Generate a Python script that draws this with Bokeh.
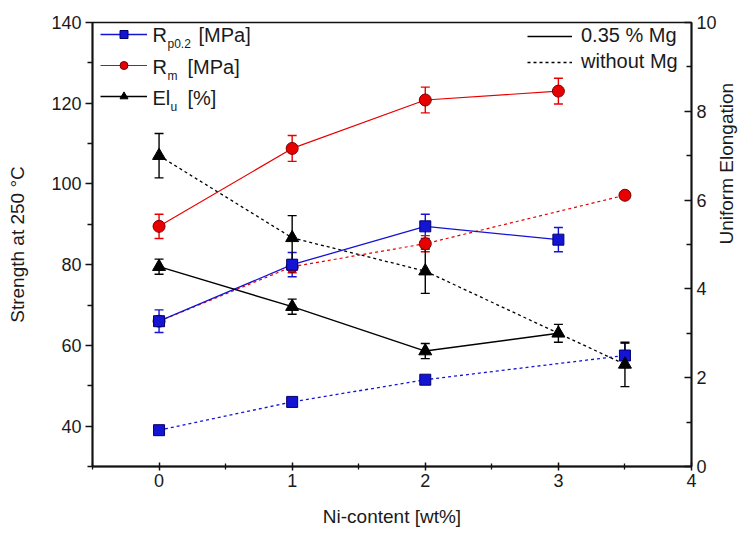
import math
from bokeh.plotting import figure
from bokeh.models import (Range1d, LinearAxis, Whisker, ColumnDataSource, Legend,
                          LegendItem, Label, FixedTicker, TeeHead)
from bokeh.embed import file_html
from bokeh.resources import INLINE

# ---------------- data ----------------
ni_mg = [0, 1, 2, 3]            # 0.35 % Mg
ni_wo = [0, 1, 2, 3.5]          # without Mg

rp_mg = [66.0, 80.0, 89.5, 86.2]
rp_mg_err = [2.8, 3.0, 3.0, 3.0]
rm_mg = [89.5, 108.8, 120.8, 123.0]
rm_mg_err = [3.0, 3.2, 3.2, 3.2]
el_mg = [4.5, 3.6, 2.6, 3.0]
el_mg_err = [0.17, 0.17, 0.17, 0.2]

rp_wo = [39.0, 46.0, 51.5, 57.5]
rp_wo_err = [0.5, 0.5, 0.6, 3.0]
rm_wo = [66.0, 79.5, 85.2, 97.2]
rm_wo_err = [1.0, 1.5, 2.0, 0.6]
el_wo = [7.0, 5.15, 4.4, 2.3]
el_wo_err = [0.5, 0.5, 0.5, 0.5]

x_ticks = [0, 1, 2, 3, 4]
x_minor = [-0.5, 0.5, 1.5, 2.5, 3.5]
y_ticks = [40, 60, 80, 100, 120, 140]
y_minor = [30, 50, 70, 90, 110, 130]
y2_ticks = [0, 2, 4, 6, 8, 10]
y2_minor = [1, 3, 5, 7, 9]

FONT = "Liberation Sans"
BLUE = "#1414d4"
BLUE_EDGE = "#000070"
RED = "#e80000"
RED_EDGE = "#7a0000"
BLACK = "#000000"
TXT = "#1a1a1a"

p = figure(width=750, height=535, output_backend="svg", toolbar_location=None,
           x_range=Range1d(-0.5, 4), y_range=Range1d(30, 140),
           min_border_left=92, min_border_right=58, min_border_top=22, min_border_bottom=69)
p.extra_y_ranges = {"el": Range1d(0, 10)}
p.grid.visible = False
p.outline_line_color = "#111111"
p.outline_line_width = 1.6
p.background_fill_color = "white"
p.border_fill_color = "white"


def style_axis(ax):
    ax.axis_line_color = "#111111"
    ax.axis_line_width = 1.8
    ax.major_tick_line_color = "#111111"
    ax.major_tick_line_width = 1.5
    ax.minor_tick_line_color = "#111111"
    ax.minor_tick_line_width = 1.3
    ax.major_label_text_font = FONT
    ax.major_label_text_font_size = "18px"
    ax.major_label_text_color = TXT
    ax.axis_label_text_font = FONT
    ax.axis_label_text_font_size = "19px"
    ax.axis_label_text_font_style = "normal"
    ax.axis_label_text_color = TXT


xa = p.xaxis[0]
style_axis(xa)
xa.ticker = FixedTicker(ticks=x_ticks, minor_ticks=x_minor)
xa.major_tick_in = 4
xa.major_tick_out = 4
xa.minor_tick_in = 3
xa.minor_tick_out = 3
xa.major_label_standoff = 3
xa.axis_label = "Ni-content [wt%]"
xa.axis_label_standoff = 16

ya = p.yaxis[0]
style_axis(ya)
ya.ticker = FixedTicker(ticks=y_ticks, minor_ticks=y_minor)
ya.major_tick_in = 0
ya.major_tick_out = 7
ya.minor_tick_in = 0
ya.minor_tick_out = 5
ya.major_label_standoff = 4
ya.axis_label = "Strength at 250 °C"
ya.axis_label_standoff = 20

ya2 = LinearAxis(y_range_name="el")
style_axis(ya2)
ya2.ticker = FixedTicker(ticks=y2_ticks, minor_ticks=y2_minor)
ya2.major_tick_in = 7
ya2.major_tick_out = 0
ya2.minor_tick_in = 5
ya2.minor_tick_out = 0
ya2.major_label_standoff = 5
ya2.axis_label = "Uniform Elongation"
ya2.axis_label_standoff = 7
ya2.axis_label_orientation = math.pi / 2
p.add_layout(ya2, "right")


def whisk(x, y, err, color, rng=None):
    src = ColumnDataSource(dict(x=x, lo=[a - e for a, e in zip(y, err)],
                                hi=[a + e for a, e in zip(y, err)]))
    kw = {}
    if rng:
        kw["y_range_name"] = rng
    w = Whisker(source=src, base="x", lower="lo", upper="hi", line_color=color, line_width=1.4,
                upper_head=TeeHead(size=9, line_color=color, line_width=1.4),
                lower_head=TeeHead(size=9, line_color=color, line_width=1.4), **kw)
    p.add_layout(w)


# error bars
whisk(ni_mg, rp_mg, rp_mg_err, BLUE)
whisk(ni_mg, rm_mg, rm_mg_err, RED)
whisk(ni_mg, el_mg, el_mg_err, BLACK, "el")
whisk(ni_wo, rp_wo, rp_wo_err, BLUE)
whisk(ni_wo, rm_wo, rm_wo_err, RED)
whisk(ni_wo, el_wo, el_wo_err, BLACK, "el")

DOT = "3 3"
# without Mg (dotted)
l_rp_wo = p.line(ni_wo, rp_wo, line_color=BLUE, line_width=1.3, line_dash=DOT)
l_rm_wo = p.line(ni_wo, rm_wo, line_color=RED, line_width=1.2, line_dash=DOT)
l_el_wo = p.line(ni_wo, el_wo, line_color=BLACK, line_width=1.3, line_dash=DOT, y_range_name="el")
# 0.35 % Mg (solid)
l_rp_mg = p.line(ni_mg, rp_mg, line_color=BLUE, line_width=1.3)
l_rm_mg = p.line(ni_mg, rm_mg, line_color=RED, line_width=1.2)
l_el_mg = p.line(ni_mg, el_mg, line_color=BLACK, line_width=1.4, y_range_name="el")

s_rp_wo = p.scatter(ni_wo, rp_wo, marker="square", size=11, fill_color=BLUE, line_color=BLUE_EDGE, line_width=1)
s_rm_wo = p.scatter(ni_wo, rm_wo, marker="circle", size=12, fill_color=RED, line_color=RED_EDGE, line_width=1)
s_el_wo = p.scatter(ni_wo, el_wo, marker="triangle", size=13, fill_color=BLACK, line_color=BLACK, y_range_name="el")
s_rp_mg = p.scatter(ni_mg, rp_mg, marker="square", size=11, fill_color=BLUE, line_color=BLUE_EDGE, line_width=1)
s_rm_mg = p.scatter(ni_mg, rm_mg, marker="circle", size=12, fill_color=RED, line_color=RED_EDGE, line_width=1)
s_el_mg = p.scatter(ni_mg, el_mg, marker="triangle", size=13, fill_color=BLACK, line_color=BLACK, y_range_name="el")

# ---- left legend (symbols); texts with subscripts added as labels ----
leg1 = Legend(items=[LegendItem(label="", renderers=[l_rp_mg, s_rp_mg]),
                     LegendItem(label="", renderers=[l_rm_mg, s_rm_mg]),
                     LegendItem(label="", renderers=[l_el_mg, s_el_mg])],
              location=(8, 360), orientation="vertical",
              glyph_width=47, glyph_height=20, label_height=20, label_width=1,
              spacing=11, padding=0, margin=0, label_standoff=0,
              label_text_font_size="1px",
              border_line_color=None, background_fill_alpha=0)
p.add_layout(leg1)

leg2 = Legend(items=[LegendItem(label="0.35 % Mg", renderers=[l_el_mg]),
                     LegendItem(label="without Mg", renderers=[l_el_wo])],
              location=(435, 393), orientation="vertical",
              glyph_width=45, glyph_height=20, label_height=20,
              spacing=3, padding=0, margin=0, label_standoff=9,
              label_text_font=FONT, label_text_font_size="20px", label_text_color=TXT,
              border_line_color=None, background_fill_alpha=0)
p.add_layout(leg2)

H = 444  # frame height in px


def lab(text, x, ytop, size):
    p.add_layout(Label(text=text, x=x, y=H - ytop, x_units="screen", y_units="screen",
                       text_font=FONT, text_font_size=size, text_color=TXT,
                       text_baseline="middle"))


rows = [12, 44, 75]
lab("R", 60, rows[0], "20px")
lab("p0.2", 75, rows[0] + 9, "12px")
lab("[MPa]", 106, rows[0], "20px")
lab("R", 60, rows[1], "20px")
lab("m", 75, rows[1] + 9, "12px")
lab("[MPa]", 95, rows[1], "20px")
lab("El", 60, rows[2], "20px")
lab("u", 78, rows[2] + 9, "12px")
lab("[%]", 95, rows[2], "20px")

open("out.html", "w").write(file_html(p, INLINE))
